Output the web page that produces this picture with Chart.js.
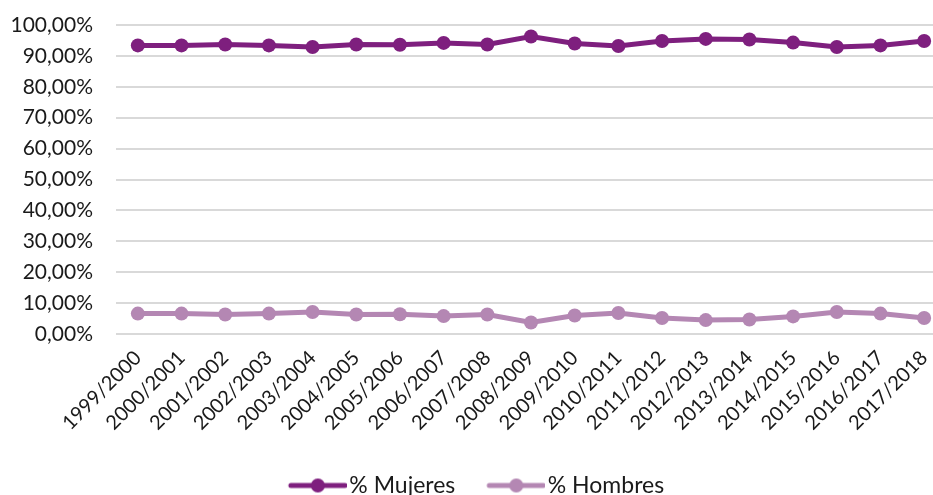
<!DOCTYPE html>
<html>
<head>
<meta charset="utf-8">
<script src="https://cdn.jsdelivr.net/npm/chart.js@4"></script>
<style>
  html, body { margin: 0; padding: 0; overflow: hidden; background: #fff; }
  #wrap { width: 979px; height: 495px; }
</style>
</head>
<body>
<div id="wrap"><canvas id="grafico"></canvas></div>
<script>
// cursos académicos
const cursos = ["1999/2000", "2000/2001", "2001/2002", "2002/2003", "2003/2004", "2004/2005",
    "2005/2006", "2006/2007", "2007/2008", "2008/2009", "2009/2010", "2010/2011", "2011/2012",
    "2012/2013", "2013/2014", "2014/2015", "2015/2016", "2016/2017", "2017/2018"];

const mujeres = [93.4, 93.4, 93.7, 93.4, 92.9, 93.7, 93.6, 94.2, 93.7, 96.3,
    94.0, 93.2, 94.8, 95.5, 95.3, 94.3, 92.9, 93.4, 94.8];
const hombres = [6.6, 6.6, 6.3, 6.6, 7.1, 6.3, 6.4, 5.8, 6.3, 3.7,
    6.0, 6.8, 5.2, 4.5, 4.7, 5.7, 7.1, 6.6, 5.2];

const colorMujeres = "#7E1F7E";
const colorHombres = "#B487B3";

// icono de leyenda: línea con marcador (más ancho que la caja, para pegar el texto)
function iconoLeyenda(color) {
    const c = document.createElement("canvas");
    c.width = 74;
    c.height = 16;
    const g = c.getContext("2d");
    g.strokeStyle = color;
    g.lineWidth = 5;
    g.lineCap = "round";
    g.beginPath();
    g.moveTo(18, 8);
    g.lineTo(72, 8);
    g.stroke();
    g.fillStyle = color;
    g.beginPath();
    g.arc(45, 8, 7, 0, Math.PI * 2);
    g.fill();
    return c;
}

const fuente = "Lato, 'Open Sans', sans-serif";

const config = {
    type: "line",
    data: {
        labels: cursos,
        datasets: [{
            label: "% Mujeres",
            data: mujeres,
            borderColor: colorMujeres,
            backgroundColor: colorMujeres,
            pointBackgroundColor: colorMujeres,
            pointBorderWidth: 0,
            pointRadius: 7,
            borderWidth: 5,
            tension: 0
        }, {
            label: "% Hombres",
            data: hombres,
            borderColor: colorHombres,
            backgroundColor: colorHombres,
            pointBackgroundColor: colorHombres,
            pointBorderWidth: 0,
            pointRadius: 7,
            borderWidth: 5,
            tension: 0
        }]
    },
    options: {
        responsive: false,
        animation: false,
        layout: {
            padding: { top: 25, right: 33, bottom: -12, left: 0 }
        },
        plugins: {
            tooltip: { enabled: false },
            legend: {
                position: "bottom",
                labels: {
                    usePointStyle: true,
                    pointStyleWidth: 56,
                    color: "#1a1a1a",
                    font: { family: fuente, size: 23 },
                    padding: 25,
                    generateLabels: chart => chart.data.datasets.map((ds, i) => ({
                        text: ds.label,
                        pointStyle: iconoLeyenda(ds.borderColor),
                        fillStyle: ds.borderColor,
                        strokeStyle: ds.borderColor,
                        lineWidth: 0,
                        hidden: false,
                        datasetIndex: i,
                        fontColor: "#1a1a1a"
                    }))
                }
            }
        },
        scales: {
            x: {
                offset: true,
                grid: { display: false },
                border: { display: false },
                ticks: {
                    color: "#1a1a1a",
                    font: { family: fuente, size: 20 },
                    maxRotation: 45,
                    minRotation: 45,
                    autoSkip: false,
                    padding: 4
                },
                afterFit: scale => { scale.height = 115; }
            },
            y: {
                min: 0,
                max: 100,
                grid: { color: "#d9d9d9", lineWidth: 2, drawTicks: false },
                border: { display: false },
                ticks: {
                    stepSize: 10,
                    color: "#1a1a1a",
                    font: { family: fuente, size: 21 },
                    padding: 23,
                    callback: v => v.toFixed(2).replace(".", ",") + "%"
                },
                afterFit: scale => {
                    scale.width = 116;
                    scale.paddingTop = 0;
                    scale.paddingBottom = 0;
                }
            }
        }
    }
};

const canvas = document.getElementById("grafico");
canvas.width = 979;
canvas.height = 495;
new Chart(canvas.getContext("2d"), config);
</script>
</body>
</html>
